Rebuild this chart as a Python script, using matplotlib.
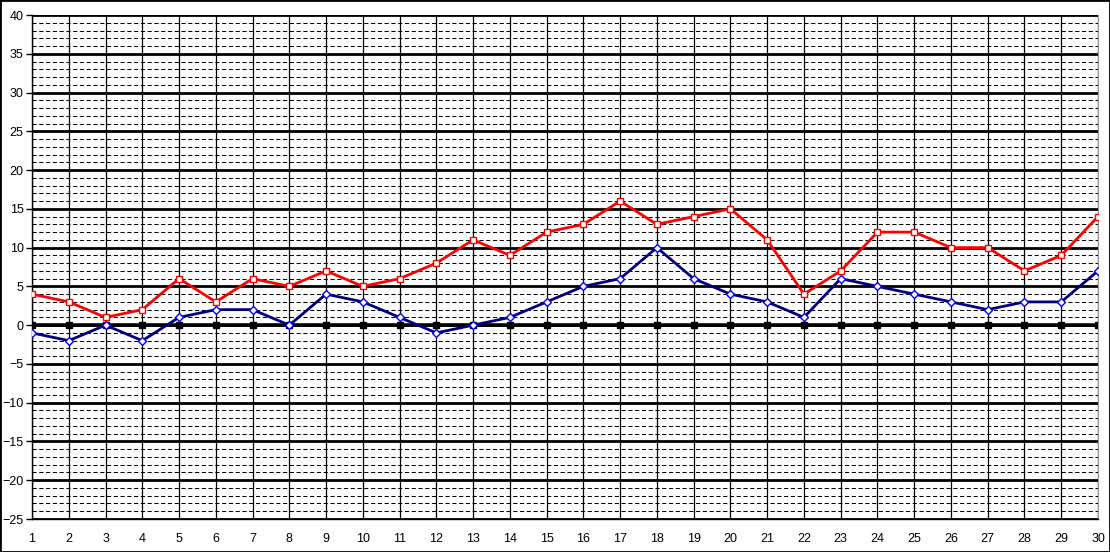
import matplotlib.pyplot as plt
import numpy as np

days = list(range(1, 31))
t_max = [4, 3, 1, 2, 6, 3, 6, 5, 7, 5, 6, 8, 11, 9, 12, 13, 16, 13, 14, 15,
         11, 4, 7, 12, 12, 10, 10, 7, 9, 14]
t_min = [-1, -2, 0, -2, 1, 2, 2, 0, 4, 3, 1, -1, 0, 1, 3, 5, 6, 10, 6, 4,
         3, 1, 6, 5, 4, 3, 2, 3, 3, 7]
y_ticks = list(range(-25, 41, 5))

plt.rcParams['font.family'] = ['Liberation Sans', 'DejaVu Sans']

fig = plt.figure(figsize=(11.1, 5.52), dpi=100)
ax = fig.add_axes([32 / 1110, 33 / 552, 1066 / 1110, 504 / 552])

# minor dashed grid every 1 unit, thick lines every 5
for y in range(-25, 41):
    if y % 5 == 0:
        continue
    ax.axhline(y, color='black', lw=0.75, ls=(0, (4, 2.5)), zorder=1)
for y in y_ticks:
    ax.axhline(y, color='black', lw=2, zorder=1)
for d in days:
    ax.axvline(d, color='black', lw=0.9, zorder=1)

# zero line
ax.plot(days, [0] * len(days), color='black', lw=2.6, marker='s',
        markersize=4, zorder=2)

ax.plot(days, t_max, color='#ff0000', lw=2, marker='s', markersize=5,
        markerfacecolor='white', markeredgecolor='#ff0000', zorder=4)
ax.plot(days, t_min, color='#000080', lw=2, marker='D', markersize=4.2,
        markerfacecolor='white', markeredgecolor='#0000ff', zorder=3)

ax.set_xlim(1, 30)
ax.set_ylim(-25, 40)
ax.set_yticks(y_ticks)
ax.set_xticks(days)
ax.tick_params(axis='y', labelsize=9, length=4, width=1, pad=2)
ax.tick_params(axis='x', labelsize=9, length=0, pad=10)

for side in ['left', 'bottom']:
    ax.spines[side].set_linewidth(1)
ax.spines['top'].set_visible(False)
ax.spines['right'].set_color('#999999')

fig.patches.append(plt.Rectangle((0, 0), 1, 1, transform=fig.transFigure,
                                 fill=False, edgecolor='black', lw=2))

fig.savefig('out.png', dpi=100)
